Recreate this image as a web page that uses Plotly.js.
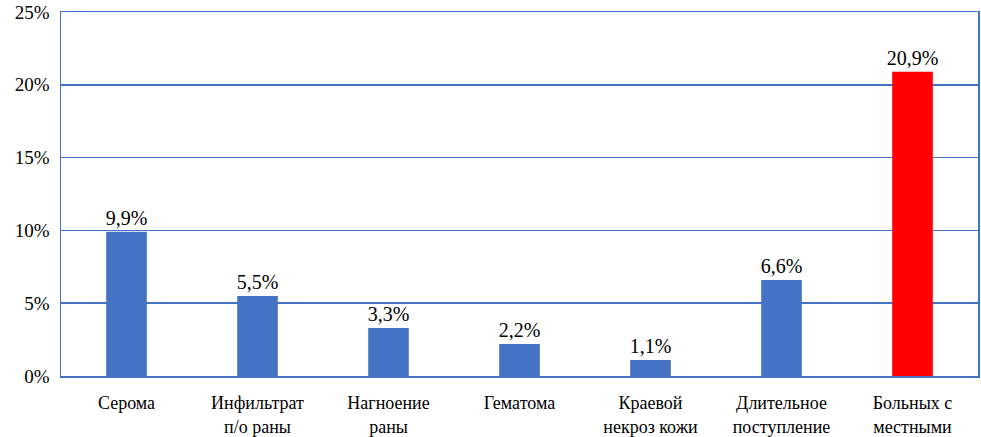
<!DOCTYPE html>
<html><head><meta charset="utf-8">
<script src="https://cdn.plot.ly/plotly-3.0.1.min.js"></script>
<style>body{margin:0;padding:0;}#chart{width:981px;height:437px;}</style>
</head><body><div id="chart"></div>
<script>
const categories = ["Серома<br>", "Инфильтрат<br>п/о раны", "Нагноение<br>раны", "Гематома<br>", "Краевой<br>некроз кожи", "Длительное<br>поступление", "Больных с<br>местными"];
const values = [9.9, 5.5, 3.3, 2.2, 1.1, 6.6, 20.9];
const colors = ["#4472C4","#4472C4","#4472C4","#4472C4","#4472C4","#4472C4","#FF0000"];
const tickVals = [0, 5, 10, 15, 20, 25];
const SERIF = 'Liberation Serif, Times New Roman, serif';

Plotly.newPlot('chart', [{
  type: 'bar',
  x: categories,
  y: values,
  marker: {color: colors},
  width: 0.31,
  text: values.map(v => v.toFixed(1).replace('.', ',') + '%'),
  textposition: 'outside',
  constraintext: 'none',
  cliponaxis: false,
  textfont: {family: SERIF, size: 20, color: '#000'},
  hoverinfo: 'none'
}], {
  width: 981, height: 437,
  margin: {l: 61, r: 3, t: 12, b: 61},
  paper_bgcolor: '#fff', plot_bgcolor: '#fff',
  showlegend: false,
  font: {family: SERIF},
  xaxis: {
    showline: true, mirror: true, linecolor: '#4472C4', linewidth: 1.5,
    tickfont: {family: SERIF, size: 18, color: '#000'},
    ticks: '', ticklabelstandoff: 10, automargin: false
  },
  yaxis: {
    range: [0, 25], tickvals: tickVals, ticktext: tickVals.map(v => v + '%'),
    showgrid: true, gridcolor: '#4472C4', gridwidth: 1.5,
    showline: true, mirror: true, linecolor: '#4472C4', linewidth: 1.5,
    zeroline: false, ticks: '', ticklabelstandoff: 6,
    ticklabeloverflow: 'allow',
    tickfont: {family: SERIF, size: 19, color: '#000'},
    automargin: false
  }
}, {displayModeBar: false, staticPlot: true});
</script></body></html>
